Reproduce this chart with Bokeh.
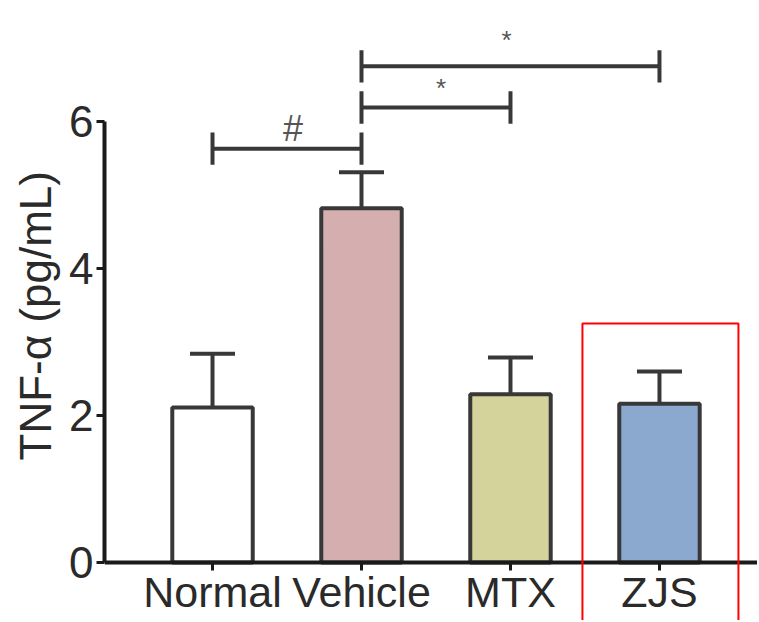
from bokeh.plotting import figure
from bokeh.models import (Range1d, FixedTicker, Whisker, TeeHead, ColumnDataSource, BoxAnnotation, Title)
from bokeh.core.properties import value
from bokeh.embed import file_html
from bokeh.resources import INLINE

# ---- data ----
categories = ["Normal", "Vehicle", "MTX", "ZJS"]
means = [2.11, 4.82, 2.29, 2.16]
errors = [0.73, 0.49, 0.50, 0.44]
bar_colors = ["#FFFFFF", "#D5AFB0", "#D3D39B", "#8BA8CE"]
y_ticks = [0, 2, 4, 6]
y_title = "TNF-α (pg/mL)"

# significance comparisons (group a, group b, mark)
comp_a = ["Normal", "Vehicle", "Vehicle"]
comp_b = ["Vehicle", "MTX", "ZJS"]
comp_mark = ["#", "*", "*"]
comp_level = [5.63, 6.19, 6.75]

FONT = "Liberation Sans"
TXT = "#2a2a2a"
EDGE = "#383838"

xpos = [i + 1 for i in range(len(categories))]
tops = [m + e for m, e in zip(means, errors)]
src = ColumnDataSource(dict(x=xpos, cat=categories, mean=means, top=tops, color=bar_colors))

p = figure(width=757, height=620, x_range=Range1d(0.275, 4.658), y_range=Range1d(-0.789, 7.646),
           output_backend="svg", toolbar_location=None,
           min_border_left=104, min_border_right=0, min_border_top=0, min_border_bottom=0)
p.outline_line_color = None
p.grid.visible = False
p.background_fill_color = "white"

p.vbar(x="x", top="mean", bottom=0, width=0.54, fill_color="color", line_color=EDGE,
       line_width=4, source=src)

w = Whisker(base="x", lower="mean", upper="top", source=src, dimension="height",
            line_color=EDGE, line_width=4,
            upper_head=TeeHead(size=45, line_color=EDGE, line_width=4), lower_head=None)
p.add_layout(w)

# significance brackets
idx = {c: xpos[i] for i, c in enumerate(categories)}
xa = [idx[a] for a in comp_a]
xb = [idx[b] for b in comp_b]
tick_h = 0.22
p.segment(x0=xa, y0=comp_level, x1=xb, y1=comp_level, line_color=EDGE, line_width=4)
p.segment(x0=xa, y0=[l - tick_h for l in comp_level], x1=xa, y1=[l + tick_h for l in comp_level],
          line_color=EDGE, line_width=4)
p.segment(x0=xb, y0=[l - tick_h for l in comp_level], x1=xb, y1=[l + tick_h for l in comp_level],
          line_color=EDGE, line_width=4)
mid = [(a + b) / 2 for a, b in zip(xa, xb)]
sharp = [i for i, m in enumerate(comp_mark) if m == "#"]
star = [i for i, m in enumerate(comp_mark) if m != "#"]
star_dx = [5, -4]
star_dy = [-20, -26]
p.text(x=[mid[i] for i in sharp], y=[comp_level[i] for i in sharp], text=[comp_mark[i] for i in sharp],
       text_align="center", text_baseline="alphabetic", y_offset=-20, x_offset=6,
       text_font=value(FONT), text_font_size="36px", text_color="#555555")
p.text(x=[mid[i] for i in star], y=[comp_level[i] for i in star], text=[comp_mark[i] for i in star],
       text_align="center", text_baseline="alphabetic", y_offset=star_dy, x_offset=star_dx,
       text_font=value(FONT), text_font_size="26px", text_color="#555555")

# highlight box around ZJS
box = BoxAnnotation(left=3.483, right=4.530, top=3.25, bottom=-1.5, fill_alpha=0,
                    line_color="#FF0000", line_alpha=1.0, line_width=2)
p.add_layout(box)

# axes
p.xaxis.fixed_location = 0
p.xaxis.ticker = FixedTicker(ticks=xpos)
p.xaxis.major_label_overrides = {x: c for x, c in zip(xpos, categories)}
p.xaxis.major_label_text_font = FONT
p.xaxis.major_label_text_font_size = "43px"
p.xaxis.major_label_text_color = TXT
p.xaxis.major_label_standoff = -3
p.xaxis.axis_line_width = 4
p.xaxis.axis_line_color = "#1a1a1a"
p.xaxis.major_tick_line_width = 3
p.xaxis.major_tick_line_color = "#1a1a1a"
p.xaxis.major_tick_out = 8
p.xaxis.major_tick_in = 0
p.xaxis.minor_tick_line_color = None

p.yaxis.ticker = FixedTicker(ticks=y_ticks)
p.yaxis.bounds = (0, 6)
p.yaxis.major_label_text_font = FONT
p.yaxis.major_label_text_font_size = "44px"
p.yaxis.major_label_text_color = TXT
p.yaxis.major_label_standoff = 3
p.yaxis.axis_line_width = 4
p.yaxis.axis_line_color = "#1a1a1a"
p.yaxis.major_tick_line_width = 3
p.yaxis.major_tick_line_color = "#1a1a1a"
p.yaxis.major_tick_out = 8
p.yaxis.major_tick_in = 0
p.yaxis.minor_tick_line_color = None

ttl = Title(text=y_title, align="left", offset=160, standoff=14, text_font=FONT,
            text_font_size="44px", text_font_style="normal", text_color=TXT)
p.add_layout(ttl, "left")

open("out.html", "w").write(file_html(p, INLINE))
